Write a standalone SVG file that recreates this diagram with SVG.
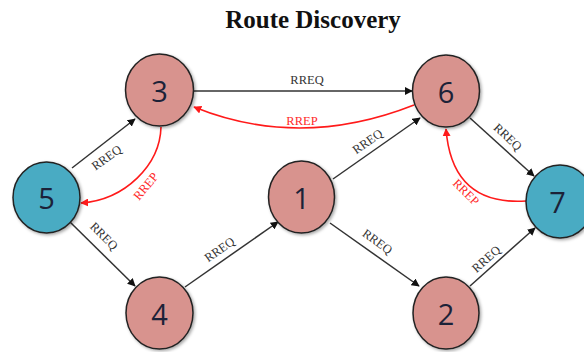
<svg xmlns="http://www.w3.org/2000/svg" width="584" height="352" viewBox="0 0 584 352">
  <style>
    .title { font-family: "Liberation Serif", "Times New Roman", serif; font-weight: bold; font-size: 25px; fill: #111; }
    .node ellipse { stroke: #222; stroke-width: 1.5; filter: url(#shadow); }
    .pink { fill: #d8938e; }
    .blue { fill: #4aabc3; }
    .num { font-family: "Open Sans", "Liberation Sans", sans-serif; font-size: 29px; fill: #1c2238; text-anchor: middle; dominant-baseline: central; }
    .req { stroke: #333; stroke-width: 1.5; fill: none; marker-end: url(#arrowK); }
    .rep { stroke: #ff1a1a; stroke-width: 1.6; fill: none; marker-end: url(#arrowR); }
    .lbl { font-family: "Liberation Serif", "Times New Roman", serif; font-size: 12.5px; text-anchor: middle; }
    .lq { fill: #333; }
    .lp { fill: #ff2a2a; }
  </style>
  <defs>
    <filter id="shadow" x="-20%" y="-20%" width="150%" height="150%">
      <feDropShadow dx="1.5" dy="1.5" stdDeviation="1.5" flood-color="#000" flood-opacity="0.35"/>
    </filter>
    <marker id="arrowK" viewBox="0 0 10 10" refX="9" refY="5" markerWidth="8" markerHeight="8" markerUnits="userSpaceOnUse" orient="auto">
      <path d="M0,0 L10,5 L0,10 z" fill="#111"/>
    </marker>
    <marker id="arrowR" viewBox="0 0 10 10" refX="9" refY="5" markerWidth="8" markerHeight="8" markerUnits="userSpaceOnUse" orient="auto">
      <path d="M0,0 L10,5 L0,10 z" fill="#ff1a1a"/>
    </marker>
  </defs>

  <rect width="584" height="352" fill="#fff"/>
  <text class="title" x="313" y="28" text-anchor="middle">Route Discovery</text>

  <!-- connectors -->
  <g id="connectors">
    <!-- RREQ flood -->
    <line class="req" x1="194" y1="91" x2="412" y2="91"/>
    <line class="req" x1="72" y1="168" x2="135" y2="119"/>
    <line class="req" x1="70" y1="222" x2="135" y2="286"/>
    <line class="req" x1="185" y1="287" x2="278" y2="222"/>
    <line class="req" x1="333" y1="179" x2="420" y2="118"/>
    <line class="req" x1="330" y1="223" x2="419" y2="286"/>
    <line class="req" x1="470" y1="118" x2="534" y2="176"/>
    <line class="req" x1="470" y1="286" x2="535" y2="228"/>
    <!-- RREP return path -->
    <path class="rep" d="M526,201 Q452,206 446,129"/>
    <path class="rep" d="M414,105 Q300,150 194,107"/>
    <path class="rep" d="M161,127 C160,165 125,200 81,203"/>

    <!-- labels -->
    <text class="lbl lq" x="307" y="84">RREQ</text>
    <text class="lbl lp" x="302" y="125">RREP</text>
    <text class="lbl lq" transform="translate(109,161) rotate(-36)">RREQ</text>
    <text class="lbl lp" transform="translate(149,189) rotate(-50)">RREP</text>
    <text class="lbl lq" transform="translate(101,239) rotate(45)">RREQ</text>
    <text class="lbl lq" transform="translate(222,253) rotate(-35)">RREQ</text>
    <text class="lbl lq" transform="translate(370,145) rotate(-35)">RREQ</text>
    <text class="lbl lq" transform="translate(375,245) rotate(36)">RREQ</text>
    <text class="lbl lq" transform="translate(505,140) rotate(43)">RREQ</text>
    <text class="lbl lp" transform="translate(463,195) rotate(45)">RREP</text>
    <text class="lbl lq" transform="translate(489,262) rotate(-42)">RREQ</text>
  </g>

  <!-- nodes -->
  <g id="node-3" class="node">
    <ellipse class="pink" cx="159.5" cy="90" rx="34" ry="36"/>
    <text class="num" x="159.5" y="90">3</text>
  </g>
  <g id="node-6" class="node">
    <ellipse class="pink" cx="446" cy="91" rx="33.5" ry="36"/>
    <text class="num" x="446" y="91">6</text>
  </g>
  <g id="node-5" class="node">
    <ellipse class="blue" cx="46.5" cy="197.5" rx="33.5" ry="35.5"/>
    <text class="num" x="46.5" y="197.5">5</text>
  </g>
  <g id="node-1" class="node">
    <ellipse class="pink" cx="301.5" cy="197" rx="33" ry="36"/>
    <text class="num" x="301.5" y="197">1</text>
  </g>
  <g id="node-7" class="node">
    <ellipse class="blue" cx="560" cy="201.5" rx="34" ry="36.5"/>
    <text class="num" x="557.5" y="201.5">7</text>
  </g>
  <g id="node-4" class="node">
    <ellipse class="pink" cx="159.5" cy="313" rx="33.5" ry="36"/>
    <text class="num" x="159.5" y="313">4</text>
  </g>
  <g id="node-2" class="node">
    <ellipse class="pink" cx="446" cy="313" rx="33" ry="36"/>
    <text class="num" x="446" y="313">2</text>
  </g>
</svg>
